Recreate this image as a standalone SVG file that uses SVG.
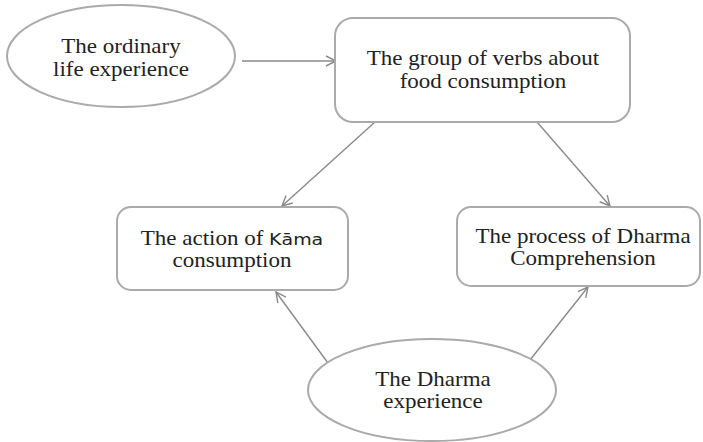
<svg xmlns="http://www.w3.org/2000/svg" width="703" height="442" viewBox="0 0 703 442">
<style>
.shape{fill:#fff;stroke:#aaaaaa;stroke-width:2}
.t{font-family:"Liberation Serif","Times New Roman",serif;font-size:20px;fill:#222;text-anchor:middle}
.s{font-family:"DejaVu Sans","Liberation Sans",sans-serif;font-size:16.5px}
.c{stroke:#8a8a8a;stroke-width:1.4;fill:none;marker-end:url(#ah)}
</style>
<defs>
<marker id="ah" viewBox="0 0 12 12" refX="11" refY="6" markerWidth="12" markerHeight="12" markerUnits="userSpaceOnUse" orient="auto">
<path d="M1,1 L11,6 L1,11" fill="none" stroke="#8a8a8a" stroke-width="1.4"/>
</marker>
</defs>
<g id="connectors">
<line class="c" x1="242" y1="61" x2="336" y2="61"/>
<line class="c" x1="375" y1="122" x2="282" y2="206"/>
<line class="c" x1="537" y1="122" x2="610" y2="206"/>
<line class="c" x1="328" y1="363" x2="276" y2="292"/>
<line class="c" x1="530" y1="360" x2="588" y2="287"/>
</g>
<g id="n1">
<ellipse class="shape" cx="121" cy="56" rx="114" ry="51"/>
<text class="t" transform="translate(121 53) scale(1.15 1)">The ordinary</text>
<text class="t" transform="translate(121 76) scale(1.15 1)">life experience</text>
</g>
<g id="n2">
<rect class="shape" x="335" y="18" width="295" height="104" rx="18"/>
<text class="t" transform="translate(483 65) scale(1.15 1)">The group of verbs about</text>
<text class="t" transform="translate(483 88) scale(1.15 1)">food consumption</text>
</g>
<g id="n3">
<rect class="shape" x="117" y="207" width="231" height="83" rx="14"/>
<text class="t" transform="translate(232 245) scale(1.15 1)">The action of <tspan class="s">Kāma</tspan></text>
<text class="t" transform="translate(232 267) scale(1.15 1)">consumption</text>
</g>
<g id="n4">
<rect class="shape" x="457" y="207" width="243" height="79" rx="14"/>
<text class="t" transform="translate(583 243) scale(1.15 1)">The process of Dharma</text>
<text class="t" transform="translate(583 265) scale(1.15 1)">Comprehension</text>
</g>
<g id="n5">
<ellipse class="shape" cx="432" cy="390" rx="124" ry="51"/>
<text class="t" transform="translate(433 386) scale(1.15 1)">The Dharma</text>
<text class="t" transform="translate(433 408) scale(1.15 1)">experience</text>
</g>
</svg>
